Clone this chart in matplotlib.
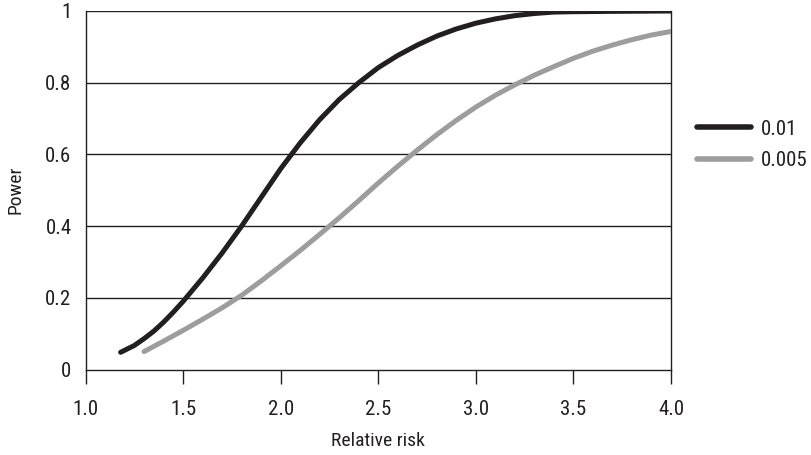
import matplotlib
matplotlib.use("Agg")
import matplotlib.pyplot as plt
from matplotlib import font_manager

names = {f.name for f in font_manager.fontManager.ttflist}
fam = [n for n in ["Liberation Sans Narrow", "Roboto Condensed", "Liberation Sans", "DejaVu Sans"] if n in names]
plt.rcParams['font.family'] = fam

# Data
rr_01 = [1.18, 1.25, 1.3, 1.35, 1.4, 1.45, 1.5, 1.6, 1.7, 1.8, 1.9, 2.0, 2.1, 2.2, 2.3, 2.4, 2.5, 2.6, 2.7, 2.8, 2.9, 3.0, 3.1, 3.2, 3.3, 3.4, 3.5, 3.7, 4.0]
pw_01 = [0.048, 0.067, 0.086, 0.107, 0.132, 0.16, 0.19, 0.255, 0.325, 0.40, 0.48, 0.56, 0.632, 0.697, 0.753, 0.80, 0.842, 0.876, 0.905, 0.930, 0.950, 0.966, 0.978, 0.987, 0.993, 0.997, 0.998, 0.999, 1.0]

rr_005 = [1.3, 1.4, 1.5, 1.6, 1.7, 1.8, 1.9, 2.0, 2.1, 2.2, 2.3, 2.4, 2.5, 2.6, 2.7, 2.8, 2.9, 3.0, 3.1, 3.2, 3.3, 3.4, 3.5, 3.6, 3.7, 3.8, 3.9, 4.0]
pw_005 = [0.05, 0.079, 0.109, 0.14, 0.172, 0.207, 0.247, 0.289, 0.332, 0.377, 0.423, 0.471, 0.52, 0.567, 0.612, 0.655, 0.695, 0.732, 0.765, 0.794, 0.821, 0.845, 0.868, 0.888, 0.905, 0.92, 0.933, 0.943]

series_labels = ["0.01", "0.005"]
xticks = [1.0, 1.5, 2.0, 2.5, 3.0, 3.5, 4.0]
xticklabels = ["1.0", "1.5", "2.0", "2.5", "3.0", "3.5", "4.0"]
yticks = [0, 0.2, 0.4, 0.6, 0.8, 1]
yticklabels = ["0", "0.2", "0.4", "0.6", "0.8", "1"]

ink = "#231f20"
fig = plt.figure(figsize=(8.11, 4.55), dpi=100)
ax = fig.add_axes([85.5/811, 1 - 369.5/455, (671-85.5)/811, (369.5-11)/455])

ax.plot(rr_01, pw_01, color=ink, lw=3.6, solid_capstyle="round", solid_joinstyle="round", label=series_labels[0], zorder=3)
ax.plot(rr_005, pw_005, color="#9d9d9d", lw=3.6, solid_capstyle="round", solid_joinstyle="round", label=series_labels[1], zorder=3)

ax.set_xlim(1.0, 4.0)
ax.set_ylim(0, 1)
ax.set_xticks(xticks)
ax.set_xticklabels(xticklabels)
ax.set_yticks(yticks)
ax.set_yticklabels(yticklabels)
for y in yticks[1:]:
    ax.axhline(y, color=ink, lw=1.0, zorder=1)

for s in ["left", "right", "bottom"]:
    ax.spines[s].set_color(ink)
    ax.spines[s].set_linewidth(1.0)
ax.spines["top"].set_visible(False)

ax.tick_params(axis="x", direction="out", length=10, width=1.0, color=ink, labelsize=15, pad=12, labelcolor=ink)
ax.tick_params(axis="y", length=0, labelsize=15, pad=10, labelcolor=ink)

ax.set_xlabel("Relative risk", fontsize=14, color=ink, labelpad=9)
ax.set_ylabel("Power", fontsize=14, color=ink, labelpad=15)

leg = ax.legend(loc="center left", bbox_to_anchor=(697/811, 1 - 145/455), bbox_transform=fig.transFigure,
                frameon=False, fontsize=15, borderpad=0, borderaxespad=0,
                handlelength=2.6, handletextpad=0.45, labelspacing=0.6)
for t in leg.get_texts():
    t.set_color(ink)
for h in leg.get_lines():
    h.set_linewidth(4.0)
    h.set_solid_capstyle("round")

fig.savefig("out.png", dpi=100)
